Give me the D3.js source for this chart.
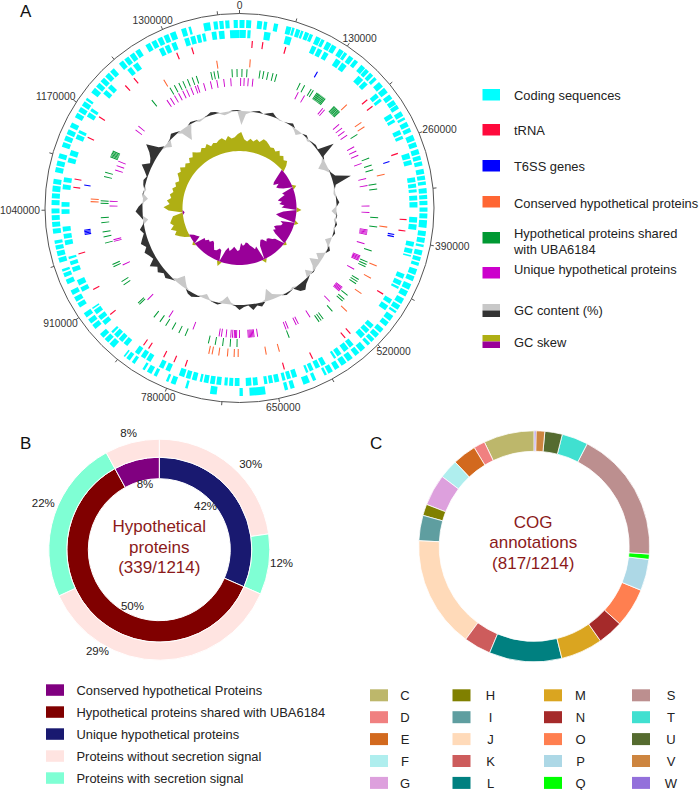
<!DOCTYPE html>
<html>
<head>
<meta charset="utf-8">
<script src="https://cdn.jsdelivr.net/npm/d3@7"></script>
<style>
    body { margin: 0; background: #fff; }
    svg { font-family: "Liberation Sans", Arial, sans-serif; }
</style>
</head>
<body>
<svg id="fig" width="699" height="790"></svg>
<script>
// ---- Panel A data (positions in kb) ----
const genomeKb = 1390;
const tickLabels = [0, 130000, 260000, 390000, 520000, 650000, 780000, 910000, 1040000, 1170000, 1300000];

// coding sequences, forward strand (outer) and reverse strand (inner): [start, end] kb
const cdsForward = [[0,6],[8,14],[21,27],[29,33],[41,46],[56,62],[63,66],[68,73],[74,77],[79,84],[85,89],[93,99],[100,104],[107,113],[114,120],[124,130],[131,135],[138,144],[146,151],[156,162],[163,168],[170,175],[177,181],[185,192],[194,201],[204,210],[212,218],[219,224],[228,234],[236,239],[242,248],[250,255],[259,266],[268,274],[277,283],[285,290],[292,297],[301,307],[309,314],[316,320],[324,330],[332,337],[339,344],[347,352],[354,360],[362,371],[375,381],[383,389],[391,394],[398,404],[406,411],[413,417],[421,428],[430,436],[440,447],[449,456],[459,466],[468,474],[476,479],[483,490],[492,498],[502,508],[510,516],[518,523],[525,529],[533,540],[542,548],[552,559],[561,568],[571,577],[580,586],[588,591],[602,606],[610,618],[629,634],[637,641],[664,683],[691,695],[722,730],[757,760],[772,778],[781,784],[796,800],[803,809],[812,815],[826,830],[833,838],[840,842],[857,864],[866,872],[874,880],[888,894],[896,902],[905,911],[919,925],[927,933],[936,942],[950,956],[959,964],[966,969],[977,983],[985,991],[993,998],[1000,1004],[1012,1018],[1020,1026],[1028,1034],[1036,1042],[1046,1052],[1054,1060],[1062,1069],[1071,1077],[1085,1091],[1093,1099],[1102,1108],[1116,1122],[1124,1130],[1132,1138],[1141,1147],[1154,1160],[1162,1168],[1170,1176],[1178,1181],[1189,1196],[1198,1204],[1206,1212],[1214,1220],[1222,1228],[1236,1242],[1244,1250],[1252,1258],[1260,1266],[1274,1280],[1282,1288],[1290,1296],[1298,1304],[1306,1313],[1320,1326],[1329,1332],[1347,1355],[1359,1364],[1366,1371],[1373,1378],[1383,1388]];
const cdsReverse = [[0,8],[10,14],[31,39],[58,66],[93,99],[101,107],[110,116],[127,134],[136,143],[162,170],[172,178],[193,199],[201,205],[224,230],[232,236],[247,253],[255,259],[278,285],[287,293],[309,315],[317,322],[324,328],[332,338],[340,347],[359,366],[368,375],[390,396],[399,405],[407,409],[432,438],[441,447],[449,452],[467,473],[476,483],[506,512],[514,520],[522,529],[541,547],[549,556],[560,566],[568,571],[583,589],[591,597],[600,605],[607,610],[622,628],[630,635],[637,641],[645,651],[653,658],[660,664],[672,678],[680,687],[695,701],[703,708],[710,714],[718,724],[726,732],[734,740],[742,745],[749,755],[757,763],[765,772],[784,790],[793,799],[811,817],[819,825],[828,834],[846,852],[854,860],[862,868],[870,873],[884,890],[892,898],[901,907],[909,911],[934,940],[943,950],[961,967],[970,975],[978,981],[996,1002],[1004,1010],[1013,1019],[1035,1041],[1044,1050],[1066,1072],[1075,1081],[1100,1106],[1109,1116],[1131,1137],[1139,1143],[1162,1168],[1170,1174],[1197,1203],[1206,1212],[1239,1245],[1248,1255],[1286,1292],[1294,1300],[1303,1309],[1320,1326],[1328,1334],[1336,1341],[1343,1347],[1355,1361],[1364,1371],[1378,1390]];

const trnaKb = [17, 31, 62, 192, 203, 274, 363, 378, 467, 535, 544, 595, 635, 768, 784, 799, 822, 830, 890, 930, 981, 1070, 1081, 1139, 1170, 1224, 1239, 1305, 1326];
const t6ssKb = [115, 281, 385, 388, 1005, 1007, 1009, 1011, 1075];
const conservedKb = [16, 178, 212, 220, 297, 376, 436, 456, 483, 517, 635, 655, 697, 703, 713, 726, 736, 741, 1052, 1056, 1272, 1356];
const sharedKb = [1344, 1349, 1355, 1378, 1386, 4, 12, 33, 39, 46, 54, 60, 1274, 1282, 1290, 1297, 1305, 1313, 1320, 1239, 1126, 1128, 1130, 1132, 1134, 1136, 1093, 1100, 1050, 1054, 1019, 1027, 100, 108, 120, 124, 131, 133, 135, 137, 139, 141, 143, 145, 147, 166, 168, 170, 172, 174, 176, 178, 224, 266, 278, 286, 309, 317, 363, 378, 417, 436, 440, 444, 467, 471, 475, 498, 506, 510, 533, 552, 556, 560, 614, 699, 710, 722, 734, 745, 784, 795, 807, 819, 830, 842, 873, 876, 913, 919, 946, 950, 986, 996, 1004];
const uniqueKb = [2, 8, 15, 23, 1317, 1328, 1340, 1351, 1363, 1375, 1259, 1266, 1274, 1282, 1290, 1297, 1305, 1313, 1185, 1193, 1108, 1116, 1124, 1046, 1054, 104, 116, 154, 158, 193, 201, 208, 216, 239, 247, 255, 270, 297, 309, 344, 355, 385, 387, 389, 391, 393, 409, 431, 433, 435, 437, 439, 456, 493, 495, 497, 499, 501, 525, 568, 591, 595, 610, 614, 664, 670, 672, 674, 676, 678, 680, 695, 700, 702, 704, 707, 710, 718, 726, 730, 776, 822, 869, 942, 985, 988];

// GC content deviation and GC skew, one value per 10 kb window
const windowKb = 10;
const gcContent = [-14,-3,-1,1,2,0,2,4,1,-1, 0,1,3,-2,-5,0,2,-2,1,2, 1,17,2,-3,-9,-4,1,4,19,2, -1,-2,1,3,-1,-5,1,-2,2,-1,
    2,0,-6,-2,3,-1,-8,-3,-11,-4, 1,-7,2,4,8,6,-2,1,2,-1, -3,-5,-12,-2,4,2,6,1,2,5, 1,-2,-8,-3,2,1,-1,-5,-2,2,
    4,3,-2,-6,-10,-3,2,5,3,7, 4,10,3,5,8,4,8,5,2,5, 1,-5,3,7,4,-1,-5,1,-2,2, 3,1,5,10,3,5,9,16,4,-2,
    -6,1,4,2,-3,-14,-7,2,1,-2, -1,1,3,2,-1,-3,-2,1,1];
const gcSkew = [19,12,10,13,11,14,12,16,15,13,11,12,10,13,9,11,8,10,6,
    -8,-14,-16,-11,-15,-13,-9,4,-12,-10,-15,-18,-14,-17,-12,-15,5,-13,-17,-20,-16,4,-14,-11,-12,-16,-18,-15,-17,-13,3,
    -10,-12,-15,-16,-14,-18,-19,-17,-14,4,-15,-13,-16,-18,-21,-22,-20,-19,-22,-15,-14,-16,-18,-15,-13,-16,-12,5,-11,-12,
    -9,-8,-11,-14,-15,-12,-13,-10,-11,3,-8,-6,-4,
    5,9,13,10,15,11,14,12,10,-2,14,19,13,16,12,14,11,13,10,12,9,11,14,12,15,11,13,10,14,12,16,13,11,14,12,15,11,13,12,14,15,12,16,13,14,17];

const legendALabels = [['Coding sequences'], ['tRNA'], ['T6SS genes'], ['Conserved hypothetical proteins'],
    ['Hypothetical proteins shared', 'with UBA6184'], ['Unique hypothetical proteins'], ['GC content (%)'], ['GC skew']];

// ---- Panel B data ----
const innerNames = ['Unique hypothetical proteins', 'Hypothetical proteins shared with UBA6184', 'Conserved hypothetical Proteins'];
const innerCounts = [107, 205, 27];
const innerPctLabels = ['42%', '50%', '8%'];
const outerCounts = [77, 30, 124, 81, 27];
const outerSignal = [false, true, false, true, false];
const outerPctLabels = ['30%', '12%', '29%', '22%', '8%'];
const legendBLabels = ['Conserved hypothetical Proteins', 'Hypothetical proteins shared with UBA6184', 'Unique hypothetical proteins',
    'Proteins without secretion signal', 'Proteins with secretion signal'];

// ---- Panel C data ----
const cogLetters = ['C','D','E','F','G','H','I','J','K','L','M','N','O','P','Q','S','T','U','V','W'];
const cogCounts = [58, 13, 27, 22, 36, 13, 29, 128, 31, 83, 48, 29, 45, 36, 6, 151, 30, 20, 10, 2];

// ---- colours ----
const colA = {cds: '#00ffff', trna: '#ff0a3c', t6ss: '#0000ff', conserved: '#ff6633', shared: '#009933',
    unique: '#cc00cc', gcHigh: '#333333', gcLow: '#c8c8c8', skewPos: '#afaf14', skewNeg: '#990099'};
const colB = {conserved: '#800080', shared: '#800000', unique: '#191970', noSignal: '#ffe4e1', signal: '#7fffd4'};
const cogColors = ['#bdb76b','#f08080','#d2691e','#afeeee','#dda0dd','#808000','#5f9ea0','#ffdab9','#cd5c5c','#008080',
    '#daa520','#a52a2a','#ff7f50','#add8e6','#00ff00','#bc8f8f','#40e0d0','#556b2f','#cd853f','#9370db'];

const svg = d3.select('#fig');
const arc = d3.arc();

// Panel letters
[['A', 20, 17], ['B', 20, 449], ['C', 370, 449]].forEach(p => {
    svg.append('text').attr('x', p[1]).attr('y', p[2]).attr('font-size', 17).attr('fill', '#111').text(p[0]);
});

// ================= Panel A : circular genome =================
const cA = {x: 239.5, y: 208, R: 194.5};
const gA = svg.append('g').attr('transform', `translate(${cA.x},${cA.y})`);
const ang = d3.scaleLinear().domain([0, genomeKb]).range([0, 2 * Math.PI]);

// outer circle and ticks
gA.append('circle').attr('r', cA.R).attr('fill', 'none').attr('stroke', '#555').attr('stroke-width', 1);
d3.range(0, genomeKb, 65).forEach(kb => {
    const a = ang(kb);
    gA.append('line')
        .attr('x1', cA.R * Math.sin(a)).attr('y1', -cA.R * Math.cos(a))
        .attr('x2', (cA.R + 3.5) * Math.sin(a)).attr('y2', -(cA.R + 3.5) * Math.cos(a))
        .attr('stroke', '#555').attr('stroke-width', 1);
});
tickLabels.forEach(v => {
    const a = ang(v / 1000);
    const t = gA.append('text').attr('font-size', 10.3).attr('fill', '#333')
        .attr('text-anchor', 'middle').attr('dominant-baseline', 'central').text(v);
    const w = t.node().getComputedTextLength();
    const x = (cA.R + 5) * Math.sin(a) + Math.sin(a) * w / 2;
    const y = -(cA.R + 5) * Math.cos(a) - Math.cos(a) * 4.5;
    t.attr('x', x).attr('y', Math.max(y, -cA.y + 5.5));
});

// block rings
function drawBlocks(list, r0, r1, color) {
    gA.append('g').selectAll('path').data(list).join('path')
        .attr('d', d => arc({innerRadius: r0, outerRadius: r1, startAngle: ang(d[0]), endAngle: ang(d[1])}))
        .attr('fill', color);
}
function drawMarks(list, r0, r1, color) {
    gA.append('g').selectAll('path').data(list).join('path')
        .attr('d', d => arc({innerRadius: r0, outerRadius: r1, startAngle: ang(d - 0.8), endAngle: ang(d + 0.8)}))
        .attr('fill', color);
}
drawBlocks(cdsForward, 180, 188, colA.cds);
drawBlocks(cdsReverse, 170, 178, colA.cds);
drawMarks(trnaKb, 160.5, 167.5, colA.trna);
drawMarks(t6ssKb, 150.5, 157, colA.t6ss);
drawMarks(conservedKb, 141, 149, colA.conserved);
drawMarks(sharedKb, 131, 139, colA.shared);
drawMarks(uniqueKb, 122, 130, colA.unique);

// GC plots
const amp = d3.scaleLinear().domain([-20, 20]).range([-20, 20]);
function radialPlot(values, base, keep, color) {
    const pts = values.map((v, i) => ({a: ang(i * windowKb + windowKb / 2), v: keep(v)}));
    pts.unshift({a: pts[pts.length - 1].a - 2 * Math.PI, v: pts[pts.length - 1].v});
    pts.push({a: pts[1].a + 2 * Math.PI, v: pts[1].v});
    const area = d3.areaRadial().angle(d => d.a).innerRadius(base).outerRadius(d => base + amp(d.v));
    gA.append('path').attr('d', area(pts)).attr('fill', color);
}
radialPlot(gcContent, 97, v => Math.max(v, 0), colA.gcHigh);
radialPlot(gcContent, 97, v => Math.min(v, 0), colA.gcLow);
radialPlot(gcSkew, 57, v => Math.max(v, 0), colA.skewPos);
radialPlot(gcSkew, 57, v => Math.min(v, 0), colA.skewNeg);

// legend A
const legendAColors = [[colA.cds], [colA.trna], [colA.t6ss], [colA.conserved], [colA.shared], [colA.unique],
    [colA.gcLow, colA.gcHigh], [colA.skewPos, colA.skewNeg]];
const legendASquareY = [89, 124, 160, 196, 232, 267, 304, 335];
const legendATextY = [95.5, 130, 166.5, 203, 233.5, 269, 310, 342.5];
legendALabels.forEach((lines, i) => {
    const cols = legendAColors[i];
    const h = cols.length > 1 ? 13 : 11.5;
    cols.forEach((c, j) => {
        svg.append('rect').attr('x', 482.5).attr('y', legendASquareY[i] + j * h / cols.length)
            .attr('width', 17.5).attr('height', h / cols.length).attr('fill', c);
    });
    lines.forEach((s, j) => {
        svg.append('text').attr('x', 514).attr('y', legendATextY[i] + j * 15.5)
            .attr('dominant-baseline', 'central').attr('font-size', 12.9).attr('fill', '#222').text(s);
    });
});

// ================= Panel B : nested donut =================
const cB = {x: 159.3, y: 549.7};
const gB = svg.append('g').attr('transform', `translate(${cB.x},${cB.y})`);
const pie = d3.pie().sort(null).value(d => d);
const innerArcs = pie(innerCounts);
const innerColors = [colB.unique, colB.shared, colB.conserved];
gB.selectAll('.inner').data(innerArcs).join('path').attr('class', 'inner')
    .attr('d', d => arc({innerRadius: 71, outerRadius: 92.5, startAngle: d.startAngle, endAngle: d.endAngle}))
    .attr('fill', (d, i) => innerColors[i]).attr('stroke', '#fff').attr('stroke-width', 1);
const outerArcs = pie(outerCounts);
gB.selectAll('.outer').data(outerArcs).join('path').attr('class', 'outer')
    .attr('d', d => arc({innerRadius: 92.5, outerRadius: 110.5, startAngle: d.startAngle, endAngle: d.endAngle}))
    .attr('fill', (d, i) => outerSignal[i] ? colB.signal : colB.noSignal).attr('stroke', '#fff').attr('stroke-width', 1);

// percentage labels (angle in degrees, radius)
const innerLabelPos = [[46.6, 63.6], [205.5, 62.4], [347.7, 67]];
const outerLabelPos = [[47, 125], [96.2, 123], [211.4, 118.7], [291.9, 125], [345.3, 121]];
function pctLabel(txt, pos) {
    const a = pos[0] * Math.PI / 180;
    gB.append('text').attr('x', pos[1] * Math.sin(a)).attr('y', -pos[1] * Math.cos(a))
        .attr('text-anchor', 'middle').attr('dominant-baseline', 'central')
        .attr('font-size', 11.5).attr('fill', '#222').text(txt);
}
innerPctLabels.forEach((t, i) => pctLabel(t, innerLabelPos[i]));
outerPctLabels.forEach((t, i) => pctLabel(t, outerLabelPos[i]));

['Hypothetical', 'proteins', '(339/1214)'].forEach((s, i) => {
    gB.append('text').attr('x', 0).attr('y', -17.5 + i * 20.5).attr('text-anchor', 'middle')
        .attr('font-size', 17).attr('fill', '#8b1a1a').text(s);
});

// legend B
const legendBColors = [colB.conserved, colB.shared, colB.unique, colB.noSignal, colB.signal];
legendBLabels.forEach((s, i) => {
    const y = 684.3 + i * 22;
    svg.append('rect').attr('x', 46).attr('y', y).attr('width', 18).attr('height', 11.5).attr('fill', legendBColors[i]);
    svg.append('text').attr('x', 76.5).attr('y', y + 6).attr('dominant-baseline', 'central')
        .attr('font-size', 12.9).attr('fill', '#222').text(s);
});

// ================= Panel C : COG donut =================
const cC = {x: 534.2, y: 546.3};
const gC = svg.append('g').attr('transform', `translate(${cC.x},${cC.y})`);
const pieC = d3.pie().sort(null).value(d => d).startAngle(0).endAngle(-2 * Math.PI);
gC.selectAll('path').data(pieC(cogCounts)).join('path')
    .attr('d', d => arc({innerRadius: 95, outerRadius: 115.5, startAngle: d.startAngle, endAngle: d.endAngle}))
    .attr('fill', (d, i) => cogColors[i]).attr('stroke', '#fff').attr('stroke-width', 0.8);
['COG', 'annotations', '(817/1214)'].forEach((s, i) => {
    gC.append('text').attr('x', -1).attr('y', -18.5 + i * 20.5).attr('text-anchor', 'middle')
        .attr('font-size', 17).attr('fill', '#8b1a1a').text(s);
});

// legend C
const colX = [370, 452.5, 544, 632];
const letterX = [405, 490.5, 580.5, 671];
cogLetters.forEach((l, i) => {
    const col = Math.floor(i / 5), row = i % 5;
    const y = 689.3 + row * 21.9;
    svg.append('rect').attr('x', colX[col]).attr('y', y).attr('width', 18).attr('height', 12).attr('fill', cogColors[i]);
    svg.append('text').attr('x', letterX[col]).attr('y', y + 6.5).attr('text-anchor', 'middle')
        .attr('dominant-baseline', 'central').attr('font-size', 13).attr('fill', '#222').text(l);
});
</script>
</body>
</html>
